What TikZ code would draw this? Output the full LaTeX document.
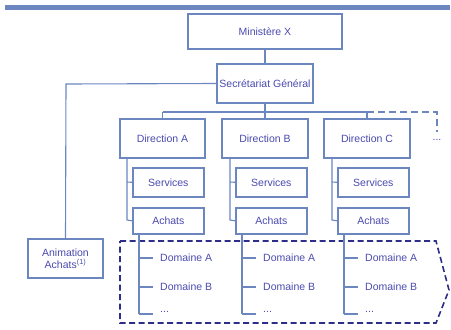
\documentclass[tikz,border=0pt]{standalone}
\usepackage{fontspec}
\setmainfont{Liberation Sans}
\usetikzlibrary{calc}
\definecolor{linec}{HTML}{6C86C0}
\definecolor{textc}{HTML}{4A4AB0}
\definecolor{navy}{HTML}{2E2E88}
\begin{document}
\begin{tikzpicture}[x=1pt,y=-1pt,
  box/.style={draw=linec,line width=1.6pt,fill=white,text=textc,font=\fontsize{10.5}{12}\selectfont,inner sep=0pt,align=center},
  conn/.style={draw=linec,line width=1.1pt},
  lbl/.style={text=textc,font=\fontsize{10.5}{12}\selectfont,inner sep=0pt,anchor=west},
  dash1/.style={draw=linec,line width=1.3pt,dash pattern=on 7pt off 4pt},
  region/.style={draw=navy,line width=1.6pt,dash pattern=on 6pt off 3.5pt}]
\useasboundingbox (0,0) rectangle (451,330);
\fill[linec] (5,5) rectangle (450,10);
% boxes
\node[box,minimum width=154pt,minimum height=35pt] (min) at (265,31.5) {Ministère X};
\node[box,minimum width=96pt,minimum height=39pt] (sg) at (265,83.5) {Secrétariat Général};
\node[box,minimum width=85pt,minimum height=39pt] (dA) at (162.5,138.5) {Direction A};
\node[box,minimum width=86pt,minimum height=39pt] (dB) at (265,138.5) {Direction B};
\node[box,minimum width=86pt,minimum height=39pt] (dC) at (367,138.5) {Direction C};
\node[text=textc,font=\fontsize{10.5}{12}\selectfont,inner sep=0pt] (dots) at (437,140) {...};
\node[box,minimum width=75pt,minimum height=39pt,font=\fontsize{10.5}{11.5}\selectfont] (anim) at (65.5,258.5) {Animation\\Achats\textsuperscript{(1)}};
% dashed region
\draw[region] (120,241) -- (436,241) -- (449,290) -- (436,323) -- (120,323) -- cycle;
% connectors top
\draw[conn] (min.south) -- (sg.north);
\coordinate (hbar) at (265,112);
\coordinate (hA) at (162.5,112);
\coordinate (hC) at (367,112);
\coordinate (hE) at (437,112);
\coordinate (hEd) at (437,132);
\draw[conn] (sg.south) -- (hbar);
\draw[conn] (hA) -- (hC);
\draw[conn] (hA) -- (dA.north);
\draw[conn] (hbar) -- (dB.north);
\draw[conn] (hC) -- (dC.north);
\draw[dash1] (hC) -- (hE) -- (hEd);
\coordinate (sgL) at (66,84);
\draw[conn] (sg.west) -- (sgL) -- (anim.north);
% columns
\foreach \c/\cx/\dx in {A/162.5/127, B/265/230, C/367/332}{
  \node[box,minimum width=71pt,minimum height=29pt,anchor=north west] (s\c) at (\dx+5,167) {Services};
  \node[box,minimum width=71pt,minimum height=26pt,anchor=north west] (a\c) at (\dx+5,207) {Achats};
  \coordinate (v\c) at (\dx,158);
  \coordinate (vs\c) at (\dx,182);
  \coordinate (va\c) at (\dx,220);
  \draw[conn] (v\c) -- (va\c) -- (a\c.west);
  \draw[conn] (vs\c) -- (s\c.west);
  \coordinate (t\c) at (\dx+12,233);
  \coordinate (b1\c) at (\dx+12,258);
  \coordinate (b2\c) at (\dx+12,287);
  \coordinate (b3\c) at (\dx+12,314);
  \node[lbl] (da\c) at (\dx+33,258) {Domaine A};
  \node[lbl] (db\c) at (\dx+33,287) {Domaine B};
  \node[lbl] (dd\c) at (\dx+33,312) {...};
  \draw[draw=linec,line width=1.8pt] (t\c) -- (b2\c);
  \draw[conn] (b2\c) -- (b3\c);
  \draw[conn] (b1\c) -- ++(14,0);
  \draw[conn] (b2\c) -- ++(14,0);
  \draw[conn] (b3\c) -- ++(14,0);
}
\end{tikzpicture}
\end{document}
